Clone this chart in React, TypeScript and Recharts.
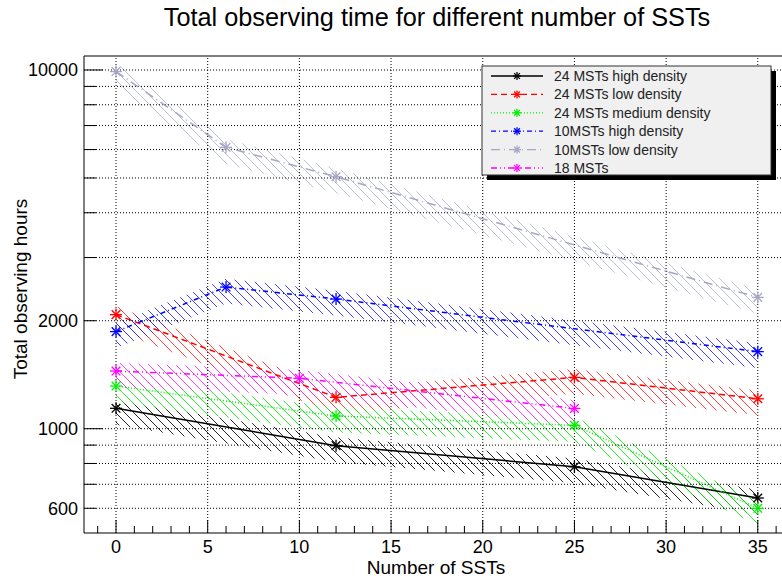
import React from 'react';
import { ComposedChart, Line, Area, XAxis, YAxis, ReferenceLine } from 'recharts';

// ---------- data ----------
const seriesNames = [
  '24 MSTs high density',
  '24 MSTs low density',
  '24 MSTs medium density',
  '10MSTs high density',
  '10MSTs low density',
  '18 MSTs',
];

const sst24High = [0, 12, 25, 35];
const hours24High = [1140, 897, 783, 641];

const sst24Low = [0, 12, 25, 35];
const hours24Low = [2080, 1223, 1390, 1212];

const sst24Medium = [0, 12, 25, 35];
const hours24Medium = [1315, 1085, 1022, 600];

const sst10High = [0, 6, 12, 35];
const hours10High = [1865, 2483, 2299, 1640];

const sst10Low = [0, 6, 12, 35];
const hours10Low = [9900, 6088, 5040, 2323];

const sst18 = [0, 10, 25];
const hours18 = [1448, 1382, 1139];

const xTickValues = [-1, 0, 1, 2, 3, 4, 5, 6, 7, 8, 9, 10, 11, 12, 13, 14, 15, 16, 17, 18, 19, 20, 21, 22, 23, 24, 25, 26, 27, 28, 29, 30, 31, 32, 33, 34, 35, 36];
const xGridValues = [0, 5, 10, 15, 20, 25, 30, 35];
const yTickValues = [600, 700, 800, 900, 1000, 2000, 3000, 4000, 5000, 6000, 7000, 8000, 9000, 10000];
const yLabelValues = [600, 1000, 2000, 10000];
const yMajorValues = [1000, 10000];

// ---------- styles ----------
const FONT = '"Liberation Sans", Arial, Helvetica, sans-serif';
const X_DOMAIN: [number, number] = [-1.746, 36.32];
const Y_DOMAIN: [number, number] = [512, 10940];
const BAND_UP = 1.055;
const BAND_DOWN = 0.9;

const styles = [
  { color: '#000000', hatch: '#000000', dash: undefined as string | undefined },
  { color: '#ff0000', hatch: '#ff2020', dash: '6 4' },
  { color: '#00ee00', hatch: '#00ee00', dash: '1 2' },
  { color: '#0000ff', hatch: '#2020ff', dash: '5 3 1 3' },
  { color: '#a6a6c6', hatch: '#b4b4d2', dash: '9 4 1 4' },
  { color: '#ff00ff', hatch: '#ff20ff', dash: '6 3 1 3 1 3' },
];

const rawSeries = [
  [sst24High, hours24High],
  [sst24Low, hours24Low],
  [sst24Medium, hours24Medium],
  [sst10High, hours10High],
  [sst10Low, hours10Low],
  [sst18, hours18],
];

const series = rawSeries.map(([xs, ys], i) => ({
  name: seriesNames[i],
  ...styles[i],
  data: xs.map((x, j) => ({ x, y: ys[j], band: [ys[j] * BAND_DOWN, ys[j] * BAND_UP] })),
}));

const Star = ({ cx, cy, color, r }: { cx: number; cy: number; color: string; r: number }) => {
  const d = r * 0.72;
  return (
    <g stroke={color} strokeWidth={1.3} fill="none">
      <line x1={cx - r} y1={cy} x2={cx + r} y2={cy} />
      <line x1={cx} y1={cy - r} x2={cx} y2={cy + r} />
      <line x1={cx - d} y1={cy - d} x2={cx + d} y2={cy + d} />
      <line x1={cx - d} y1={cy + d} x2={cx + d} y2={cy - d} />
    </g>
  );
};

const XTick = (props: any) => {
  const { x, y, payload } = props;
  const v = payload.value;
  const major = v % 5 === 0;
  return (
    <g>
      <line x1={x} y1={y} x2={x} y2={y - (major ? 13 : 7)} stroke="#000" strokeWidth={1} />
      {major && (
        <text x={x} y={y + 20} textAnchor="middle" fontSize={18} fontFamily={FONT} fill="#000">
          {v}
        </text>
      )}
    </g>
  );
};

const YTick = (props: any) => {
  const { x, y, payload } = props;
  const v = payload.value;
  const major = yMajorValues.includes(v);
  const labeled = yLabelValues.includes(v);
  return (
    <g>
      <line x1={x} y1={y} x2={x + (major ? 19 : 12)} y2={y} stroke="#000" strokeWidth={1} />
      {labeled && (
        <text x={x - 6} y={y} dy="0.35em" textAnchor="end" fontSize={18} fontFamily={FONT} fill="#000">
          {v}
        </text>
      )}
    </g>
  );
};

const hatchId = (i: number) => `hatch-${i}`;

export default function App() {
  const legendLeft = 482;
  const legendTop = 66;
  const legendW = 289;
  const legendH = 109;
  return (
    <div style={{ position: 'absolute', left: 0, top: 0, width: 782, height: 581, background: '#fff' }}>
      <ComposedChart width={782} height={581} margin={{ top: 56, right: 0, bottom: 0, left: 0 }}>
        <defs>
          {series.map((s, i) => (
            <pattern key={i} id={hatchId(i)} patternUnits="userSpaceOnUse" width={9} height={9}>
              <path
                d="M0,0 L9,9 M-1,8 L1,10 M8,-1 L10,1"
                stroke={s.hatch}
                strokeWidth={1}
                strokeOpacity={0.85}
              />
            </pattern>
          ))}
        </defs>
        <XAxis
          type="number"
          dataKey="x"
          domain={X_DOMAIN}
          allowDataOverflow
          ticks={xTickValues}
          interval={0}
          tickSize={0}
          tickMargin={0}
          tickLine={false}
          axisLine={{ stroke: '#000' }}
          tick={<XTick />}
          height={48}
        />
        <YAxis
          type="number"
          scale="log"
          domain={Y_DOMAIN}
          allowDataOverflow
          ticks={yTickValues}
          interval={0}
          tickSize={0}
          tickMargin={0}
          tickLine={false}
          axisLine={{ stroke: '#000' }}
          tick={<YTick />}
          width={84}
        />
        {xGridValues.map((v) => (
          <ReferenceLine key={`gx${v}`} x={v} stroke="#000" strokeDasharray="1 2" strokeWidth={1} />
        ))}
        {yTickValues.map((v) => (
          <ReferenceLine key={`gy${v}`} y={v} stroke="#000" strokeDasharray="1 2" strokeWidth={1} />
        ))}
        <ReferenceLine y={Y_DOMAIN[1]} stroke="#555" strokeWidth={1.5} ifOverflow="visible" />
        {series.map((s, i) => (
          <Area
            key={`a${i}`}
            data={s.data}
            dataKey="band"
            type="linear"
            stroke="none"
            fill={`url(#${hatchId(i)})`}
            fillOpacity={1}
            isAnimationActive={false}
            legendType="none"
            dot={false}
            activeDot={false}
          />
        ))}
        {series.map((s, i) => (
          <Line
            key={`l${i}`}
            data={s.data}
            dataKey="y"
            type="linear"
            stroke={s.color}
            strokeWidth={1.5}
            strokeDasharray={s.dash}
            isAnimationActive={false}
            legendType="none"
            activeDot={false}
            dot={(p: any) => <Star key={`d${i}-${p.index}`} cx={p.cx} cy={p.cy} color={s.color} r={6} />}
          />
        ))}
      </ComposedChart>
      <svg
        width={782}
        height={581}
        style={{ position: 'absolute', left: 0, top: 0, pointerEvents: 'none' }}
      >
        <text x={437} y={26} textAnchor="middle" fontSize={25.3} fontFamily={FONT} fill="#000">
          Total observing time for different number of SSTs
        </text>
        <text x={436} y={574} textAnchor="middle" fontSize={19} fontFamily={FONT} fill="#000">
          Number of SSTs
        </text>
        <text
          x={27}
          y={289}
          textAnchor="middle"
          fontSize={19}
          fontFamily={FONT}
          fill="#000"
          transform="rotate(-90 27 289)"
        >
          Total observing hours
        </text>
        <rect x={legendLeft + 5} y={legendTop + 5} width={legendW} height={legendH} fill="#000" />
        <rect x={legendLeft} y={legendTop} width={legendW} height={legendH} fill="#f0f0f0" stroke="#333" strokeWidth={1} />
        {series.map((s, i) => {
          const cy = legendTop + 10 + i * 18.4;
          return (
            <g key={`lg${i}`}>
              <line x1={491} y1={cy} x2={543} y2={cy} stroke={s.color} strokeWidth={1.3} strokeDasharray={s.dash} />
              <Star cx={517} cy={cy} color={s.color} r={4} />
              <text x={554} y={cy} dy="0.35em" fontSize={14} fontFamily={FONT} fill="#222">
                {s.name}
              </text>
            </g>
          );
        })}
      </svg>
    </div>
  );
}
